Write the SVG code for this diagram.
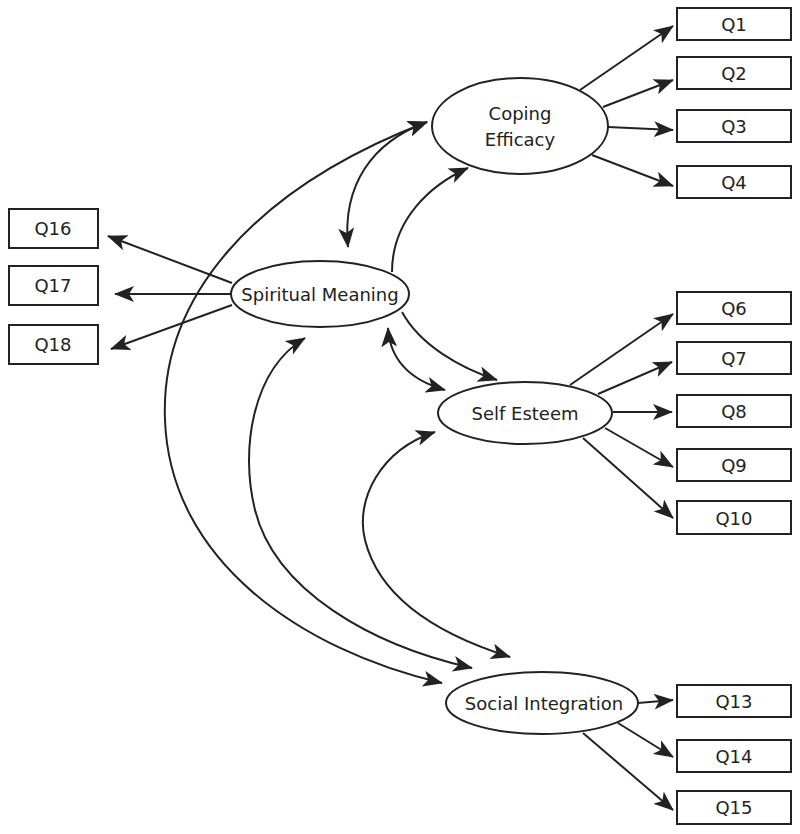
<svg xmlns="http://www.w3.org/2000/svg" width="800" height="834" viewBox="0 0 800 834">
<style>
.box{fill:#fff;stroke:#222;stroke-width:2}
.ell{fill:#fff;stroke:#222;stroke-width:2}
.t{font-family:"DejaVu Sans",Verdana,sans-serif;font-size:18px;fill:#222;text-anchor:middle;dominant-baseline:central}
.c{fill:none;stroke:#222;stroke-width:2;marker-end:url(#ah)}
.d{marker-start:url(#ah)}
</style>
<defs>
<marker id="ah" viewBox="0 0 20 16" refX="19" refY="8" markerWidth="20" markerHeight="16" markerUnits="userSpaceOnUse" orient="auto-start-reverse">
<path d="M0,0 L20,8 L0,16 L5,8 z" fill="#222"/>
</marker>
</defs>
<g id="connectors">
<path class="c" d="M580,90 L673,26"/>
<path class="c" d="M603,107 L673,80"/>
<path class="c" d="M608,127 L673,130"/>
<path class="c" d="M592,155 L673,186"/>
<path class="c" d="M232,283 L108,236"/>
<path class="c" d="M231,294 L115,294"/>
<path class="c" d="M232,305 L111,349"/>
<path class="c" d="M570,385 L673,314"/>
<path class="c" d="M598,394 L672,362"/>
<path class="c" d="M613,412 L672,412"/>
<path class="c" d="M605,428 L673,467"/>
<path class="c" d="M583,438 L673,518"/>
<path class="c" d="M638,703 L673,700"/>
<path class="c" d="M618,723 L673,757"/>
<path class="c" d="M583,733 L673,810"/>
<path class="c" d="M392,272 C392,220 430,185 468,168"/>
<path class="c d" d="M348,247 C342,185 372,142 427,122"/>
<path class="c d" d="M427,122 C250,190 160,300 165,420 C170,560 300,650 442,683"/>
<path class="c d" d="M305,338 C252,370 240,450 255,510 C275,590 370,645 472,668"/>
<path class="c d" d="M435,432 C380,450 355,500 365,540 C380,600 440,635 510,657"/>
<path class="c d" d="M388,328 C390,360 410,380 445,390"/>
<path class="c" d="M402,312 C420,345 460,368 497,380"/>
</g>
<g id="coping"><ellipse class="ell" cx="520" cy="126" rx="88" ry="48"/><text class="t" x="520" y="113">Coping</text><text class="t" x="520" y="139">Efficacy</text></g>
<g id="spiritual"><ellipse class="ell" cx="320" cy="294" rx="89" ry="33"/><text class="t" x="320" y="294">Spiritual Meaning</text></g>
<g id="selfesteem"><ellipse class="ell" cx="525" cy="413" rx="87" ry="31"/><text class="t" x="525" y="413">Self Esteem</text></g>
<g id="social"><ellipse class="ell" cx="542" cy="703" rx="96" ry="31"/><text class="t" x="544" y="703">Social Integration</text></g>
<g id="q1"><rect class="box" x="677" y="8" width="114" height="32"/><text class="t" x="734" y="24">Q1</text></g>
<g id="q2"><rect class="box" x="677" y="57" width="114" height="32"/><text class="t" x="734" y="73">Q2</text></g>
<g id="q3"><rect class="box" x="677" y="110" width="114" height="32"/><text class="t" x="734" y="126">Q3</text></g>
<g id="q4"><rect class="box" x="677" y="166" width="114" height="32"/><text class="t" x="734" y="182">Q4</text></g>
<g id="q6"><rect class="box" x="677" y="292" width="114" height="32"/><text class="t" x="734" y="308">Q6</text></g>
<g id="q7"><rect class="box" x="677" y="342" width="114" height="32"/><text class="t" x="734" y="358">Q7</text></g>
<g id="q8"><rect class="box" x="677" y="395" width="114" height="32"/><text class="t" x="734" y="411">Q8</text></g>
<g id="q9"><rect class="box" x="677" y="449" width="114" height="32"/><text class="t" x="734" y="465">Q9</text></g>
<g id="q10"><rect class="box" x="677" y="501" width="114" height="33"/><text class="t" x="734" y="518">Q10</text></g>
<g id="q13"><rect class="box" x="677" y="685" width="114" height="32"/><text class="t" x="734" y="701">Q13</text></g>
<g id="q14"><rect class="box" x="677" y="740" width="114" height="32"/><text class="t" x="734" y="756">Q14</text></g>
<g id="q15"><rect class="box" x="677" y="791" width="114" height="33"/><text class="t" x="734" y="807">Q15</text></g>
<g id="q16"><rect class="box" x="9" y="209" width="89" height="39"/><text class="t" x="53" y="228">Q16</text></g>
<g id="q17"><rect class="box" x="9" y="266" width="89" height="39"/><text class="t" x="53" y="285">Q17</text></g>
<g id="q18"><rect class="box" x="9" y="325" width="89" height="39"/><text class="t" x="53" y="344">Q18</text></g>
</svg>
